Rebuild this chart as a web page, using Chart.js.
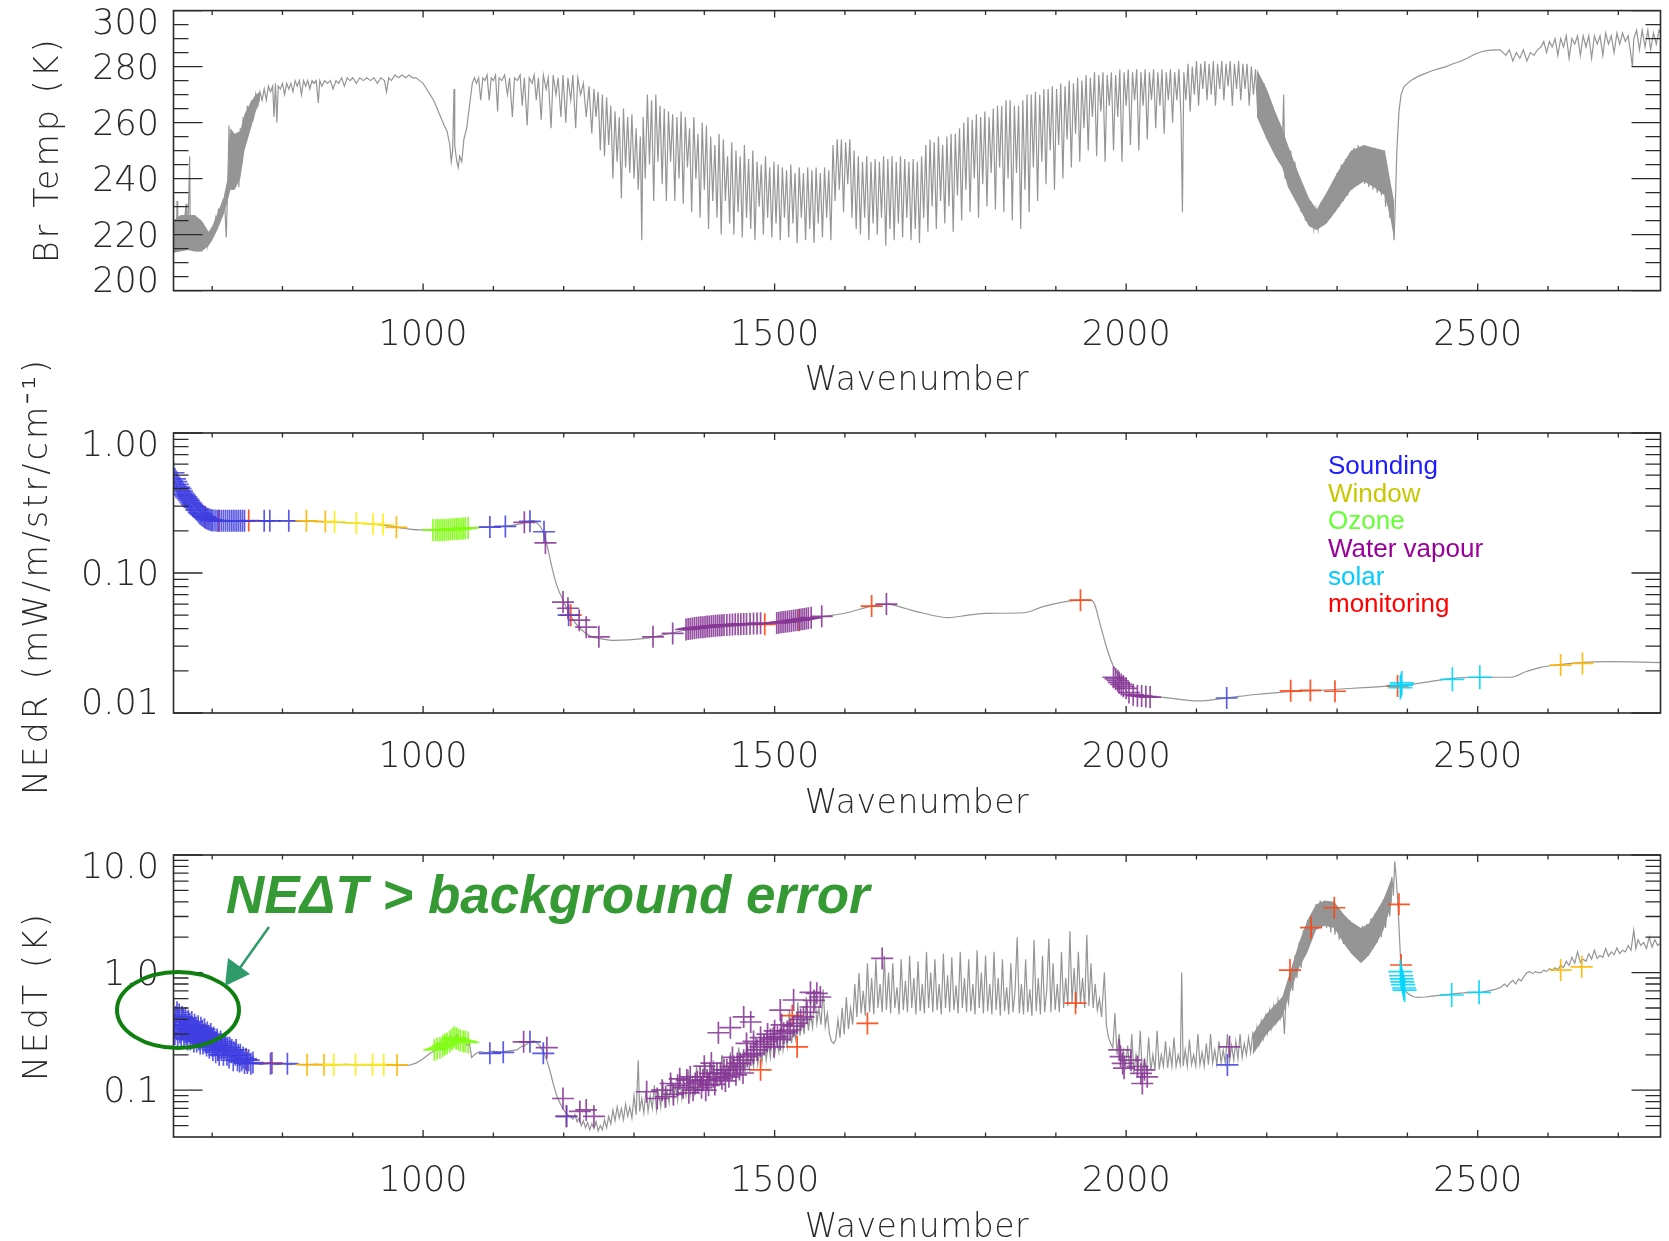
<!DOCTYPE html>
<html>
<head>
<meta charset="utf-8">
<script src="https://cdn.jsdelivr.net/npm/chart.js@4.4.1/dist/chart.umd.min.js"></script>
<style>
  html, body { margin: 0; padding: 0; background: #fff; }
  #wrap { position: relative; width: 1669px; height: 1241px; }
  #wrap canvas { position: absolute; left: 0; top: 0; }
</style>
</head>
<body>
<div id="wrap">
  <canvas id="brtemp" width="1669" height="1241"></canvas>
  <canvas id="nedr" width="1669" height="1241"></canvas>
  <canvas id="nedt" width="1669" height="1241"></canvas>
</div>
<script>
// ---- data ----
const xTickValues = [1000, 1500, 2000, 2500];
const brTempTicks = [200, 220, 240, 260, 280, 300];
const brTempMinor = [205, 210, 215, 225, 230, 235, 245, 250, 255, 265, 270, 275, 285, 290, 295];
const nedrTicks = [0.01, 0.1, 1];
const nedrTickLabels = ['0.01', '0.10', '1.00'];
const nedrMinor = [0.02, 0.03, 0.04, 0.05, 0.06, 0.07, 0.08, 0.09, 0.2, 0.3, 0.4, 0.5, 0.6, 0.7, 0.8, 0.9];
const nedtTicks = [0.1, 1, 10];
const nedtTickLabels = ['0.1', '1.0', '10.0'];
const nedtMinor = [0.05, 0.06, 0.07, 0.08, 0.09, 0.2, 0.3, 0.4, 0.5, 0.6, 0.7, 0.8, 0.9, 2, 3, 4, 5, 6, 7, 8, 9];
const legendLabels = ['Sounding', 'Window', 'Ozone', 'Water vapour', 'solar', 'monitoring'];

// brightness temperature spectrum [wavenumber, K]
const brTemp = [[645,215],[647,225],[649,214],[650,232],[651,216],[653,226],[655,215],[657,225],[659,216],[661,226],[663,231],[664,215],[666,226],[668,248],[669,216],[671,226],[673,215],[675,227],[677,214],[679,226],[681,214],[683,225],[685,214],[687,224],[689,215],[691,222],[693,216],[695,220],[697,218],[700,222],[703,221],[705,226],[707,224],[709,229],[712,228],[715,232],[718,230],[720,219],[722,236],[724,259],[726,238],[728,256],[730,236],[732,255],[734,238],[736,253],[738,237],[740,258],[742,245],[744,262],[747,252],[750,266],[753,258],[756,268],[759,262],[762,270],[765,266],[768,271],[771,268],[774,272],[777,268],[780,273],[783,271],[786,273],[788,262],[790,274],[792,260],[794,273],[797,272],[800,274],[803,270],[806,274],[809,272],[812,274],[815,271],[818,275],[821,273],[824,275],[827,270],[830,275],[833,273],[836,275],[839,272],[842,275],[845,274],[848,275],[851,267],[853,275],[856,273],[860,275],[864,274],[868,275],[872,272],[876,275],[880,274],[884,276],[888,273],[892,276],[896,275],[900,276],[905,274],[910,276],[915,275],[920,276],[925,275],[930,276],[935,274],[940,276],[945,275],[948,271],[951,276],[955,275],[960,277],[965,276],[970,277],[975,276],[980,277],[985,276],[990,276],[995,275],[1000,274],[1005,272],[1010,270],[1015,268],[1020,265],[1025,262],[1030,259],[1034,257],[1038,252],[1040,246],[1042,250],[1044,272],[1045,252],[1048,246],[1050,244],[1052,248],[1055,246],[1058,254],[1062,258],[1066,266],[1070,274],[1073,276],[1076,274],[1079,276],[1082,268],[1085,276],[1088,275],[1091,277],[1094,268],[1097,276],[1100,275],[1103,277],[1106,264],[1108,276],[1112,275],[1116,277],[1120,270],[1123,276],[1127,262],[1130,276],[1134,275],[1138,277],[1141,266],[1144,276],[1148,259],[1151,276],[1155,274],[1158,277],[1161,268],[1164,276],[1168,261],[1171,277],[1175,272],[1178,276],[1182,258],[1185,277],[1189,270],[1192,276],[1196,262],[1199,277],[1203,260],[1206,276],[1210,268],[1213,277],[1217,258],[1220,276],[1224,270],[1228,274],[1232,262],[1236,273],[1240,256],[1243,272],[1246,262],[1249,271],[1252,250],[1255,270],[1258,248],[1261,269],[1264,252],[1267,266],[1270,240],[1273,264],[1276,246],[1279,262],[1282,233],[1285,265],[1288,244],[1291,262],[1294,242],[1297,263],[1300,240],[1303,258],[1306,236],[1309,255],[1311,218],[1313,262],[1316,240],[1319,270],[1322,245],[1325,268],[1328,232],[1331,270],[1334,246],[1337,266],[1340,238],[1343,265],[1346,232],[1349,264],[1352,246],[1355,263],[1358,232],[1361,262],[1364,240],[1367,264],[1370,231],[1373,262],[1376,244],[1379,258],[1382,228],[1385,262],[1388,240],[1391,256],[1394,226],[1397,260],[1400,236],[1403,259],[1406,222],[1409,255],[1412,232],[1415,252],[1418,226],[1421,256],[1424,220],[1427,254],[1430,232],[1433,248],[1436,224],[1439,253],[1442,220],[1445,250],[1448,228],[1451,248],[1454,219],[1457,252],[1460,226],[1463,247],[1466,222],[1469,250],[1472,218],[1475,246],[1478,230],[1481,245],[1484,220],[1487,248],[1490,226],[1493,244],[1496,219],[1499,246],[1502,224],[1505,245],[1508,218],[1511,244],[1514,226],[1517,243],[1520,219],[1523,245],[1526,224],[1529,242],[1532,217],[1535,244],[1538,226],[1541,242],[1544,218],[1547,244],[1550,222],[1553,243],[1556,217],[1559,244],[1562,224],[1565,242],[1568,219],[1571,244],[1574,226],[1577,243],[1580,218],[1583,252],[1586,232],[1589,254],[1592,236],[1595,254],[1598,228],[1601,253],[1604,238],[1607,254],[1610,226],[1613,250],[1616,222],[1619,248],[1622,220],[1625,246],[1628,226],[1631,248],[1634,218],[1637,246],[1640,224],[1643,247],[1646,220],[1649,246],[1652,226],[1655,248],[1658,216],[1661,247],[1664,222],[1667,248],[1670,218],[1673,246],[1676,224],[1679,248],[1682,219],[1685,247],[1688,226],[1691,246],[1694,218],[1697,247],[1700,222],[1703,246],[1706,217],[1709,248],[1712,226],[1715,252],[1718,221],[1721,254],[1724,230],[1727,253],[1730,222],[1733,255],[1736,232],[1739,252],[1742,224],[1745,255],[1748,230],[1751,256],[1754,221],[1757,256],[1760,234],[1763,258],[1766,225],[1769,260],[1772,236],[1775,262],[1778,228],[1781,261],[1784,240],[1787,263],[1790,226],[1793,262],[1796,238],[1799,264],[1802,230],[1805,262],[1808,242],[1811,265],[1814,229],[1817,266],[1820,244],[1823,266],[1826,228],[1829,268],[1832,240],[1835,268],[1838,225],[1841,266],[1844,242],[1847,266],[1850,222],[1853,268],[1856,236],[1859,270],[1862,228],[1865,270],[1868,244],[1871,271],[1874,232],[1877,270],[1880,246],[1883,272],[1886,238],[1889,272],[1892,250],[1895,273],[1898,236],[1901,272],[1904,252],[1907,274],[1910,240],[1913,273],[1916,254],[1919,275],[1922,244],[1925,274],[1928,256],[1931,276],[1934,246],[1937,275],[1940,258],[1943,277],[1946,250],[1949,276],[1952,262],[1955,278],[1958,248],[1961,277],[1964,264],[1967,278],[1970,246],[1973,277],[1976,266],[1979,278],[1982,250],[1985,277],[1988,262],[1991,279],[1994,246],[1997,278],[2000,266],[2003,279],[2006,252],[2009,278],[2012,268],[2015,279],[2018,250],[2021,278],[2024,266],[2027,279],[2030,254],[2033,278],[2036,268],[2039,279],[2042,258],[2045,278],[2048,266],[2051,279],[2054,256],[2057,278],[2060,268],[2063,279],[2066,260],[2069,278],[2072,268],[2075,279],[2078,262],[2080,228],[2082,278],[2085,268],[2088,281],[2091,264],[2094,280],[2097,270],[2100,282],[2103,266],[2106,281],[2109,272],[2112,282],[2115,268],[2118,281],[2121,270],[2124,282],[2127,266],[2130,281],[2133,272],[2136,282],[2139,268],[2142,281],[2145,273],[2148,282],[2151,266],[2154,281],[2157,272],[2160,282],[2163,268],[2166,281],[2169,272],[2172,281],[2175,266],[2178,280],[2181,270],[2184,279],[2187,264],[2190,276],[2193,262],[2196,274],[2199,258],[2202,270],[2205,254],[2208,266],[2211,250],[2214,262],[2217,246],[2220,258],[2222,250],[2224,270],[2226,240],[2228,252],[2231,238],[2234,250],[2237,236],[2240,246],[2243,232],[2246,240],[2249,228],[2252,236],[2255,225],[2258,232],[2261,223],[2264,230],[2267,222],[2270,229],[2273,222],[2276,230],[2279,223],[2282,233],[2285,225],[2288,236],[2291,226],[2294,239],[2297,228],[2300,242],[2303,230],[2306,245],[2309,232],[2312,247],[2315,234],[2318,249],[2321,236],[2324,251],[2327,238],[2330,252],[2333,240],[2336,251],[2339,238],[2342,251],[2345,237],[2348,250],[2351,236],[2354,251],[2357,235],[2360,250],[2363,234],[2366,247],[2369,230],[2372,240],[2375,226],[2378,232],[2381,218],[2383,232],[2385,250],[2388,264],[2391,270],[2395,272.8],[2400,274],[2405,275],[2415,276.5],[2425,277.5],[2435,278.5],[2445,279.3],[2455,280],[2465,281],[2475,281.8],[2485,283],[2495,284.3],[2505,285.3],[2515,285.8],[2525,286],[2532,286],[2540,284],[2545,286],[2550,282],[2555,285],[2560,283],[2565,286],[2570,282],[2575,285],[2580,284],[2585,286],[2590,287],[2594,289],[2598,285],[2602,289],[2606,287],[2610,290],[2614,284],[2618,290],[2622,287],[2626,291],[2630,283],[2634,290],[2638,288],[2642,291],[2646,284],[2650,291],[2654,287],[2658,291],[2662,283],[2666,291],[2670,288],[2674,291],[2678,284],[2682,292],[2686,288],[2690,291],[2694,285],[2698,292],[2702,288],[2706,292],[2710,289],[2714,291],[2718,284],[2720,280],[2722,290],[2726,293],[2730,286],[2734,293],[2738,287],[2742,293],[2746,286],[2750,292],[2754,288],[2758,293],[2760,292]];
// envelopes [wavenumber, low, high] of the densely packed line bands
const brTempBandCO2 = [[645,213.5,225],[655,214,227],[665,214.5,227],[675,214,227],[685,214,225],[695,216,221],[700,218,223],[708,222,228],[716,227,233],[722,232,240],[726,236,258],[732,236,256],[740,240,257],[746,250,263],[754,257,267],[762,264,270],[768,268,271]];
const brTempBandN2O = [[2186,262,279],[2200,254,272],[2212,248,264],[2222,244,258],[2230,237,252],[2245,230,242],[2260,223,233],[2271,221.6,229],[2285,224,235],[2300,229,242],[2320,236,250],[2338,239,252],[2352,237,251],[2368,234,250],[2375,227,240],[2381,218.7,232]];

// noise equivalent radiance curve [wavenumber, mW/m2/sr/cm-1]
const nedr = [[645,0.45],[650,0.42],[655,0.39],[660,0.36],[665,0.34],[670,0.32],[675,0.3],[680,0.285],[685,0.27],[690,0.258],[695,0.25],[700,0.244],[710,0.24],[720,0.238],[740,0.237],[760,0.236],[800,0.236],[840,0.235],[880,0.23],[920,0.225],[950,0.218],[975,0.208],[997,0.203],[1015,0.203],[1040,0.205],[1065,0.21],[1080,0.213],[1110,0.214],[1140,0.225],[1150,0.234],[1156,0.237],[1163,0.225],[1170,0.2],[1176,0.16],[1183,0.111],[1190,0.082],[1199,0.064],[1210,0.049],[1226,0.039],[1240,0.035],[1252,0.034],[1272,0.033],[1313,0.034],[1374,0.039],[1420,0.041],[1481,0.0432],[1530,0.046],[1567,0.0487],[1603,0.052],[1638,0.058],[1661,0.06],[1685,0.056],[1709,0.052],[1747,0.048],[1775,0.05],[1801,0.0515],[1854,0.052],[1882,0.0575],[1910,0.062],[1936,0.064],[1949,0.064],[1955,0.06],[1962,0.045],[1970,0.032],[1978,0.024],[1990,0.018],[2004,0.0138],[2040,0.0131],[2070,0.0126],[2101,0.0122],[2143,0.0128],[2180,0.0135],[2216,0.014],[2283,0.0146],[2338,0.0152],[2392,0.0158],[2430,0.0167],[2465,0.0177],[2502,0.018],[2547,0.018],[2568,0.0197],[2590,0.0212],[2611,0.022],[2647,0.0229],[2684,0.0233],[2720,0.0232],[2760,0.0229]];

// noise equivalent temperature spectrum [wavenumber, K]
const nedt = [[645,0.45],[650,0.42],[660,0.38],[670,0.34],[680,0.3],[690,0.27],[700,0.24],[710,0.22],[720,0.2],[730,0.19],[740,0.18],[750,0.172],[760,0.168],[770,0.166],[780,0.17],[790,0.165],[800,0.168],[810,0.165],[820,0.167],[830,0.164],[845,0.166],[860,0.165],[875,0.164],[890,0.166],[905,0.164],[920,0.165],[935,0.164],[950,0.164],[965,0.163],[980,0.163],[990,0.17],[1000,0.185],[1010,0.206],[1019,0.22],[1026,0.24],[1033,0.25],[1038,0.29],[1043,0.27],[1048,0.3],[1052,0.255],[1057,0.27],[1062,0.24],[1066,0.25],[1069,0.19],[1075,0.205],[1081,0.213],[1090,0.208],[1100,0.215],[1110,0.21],[1120,0.215],[1133,0.22],[1140,0.235],[1145,0.24],[1152,0.258],[1158,0.262],[1163,0.25],[1166,0.24],[1171,0.21],[1176,0.18],[1180,0.15],[1185,0.114],[1190,0.09],[1195,0.077],[1200,0.068],[1205,0.062],[1209,0.06],[1213,0.057],[1216,0.062],[1219,0.054],[1222,0.058],[1225,0.05],[1228,0.055],[1231,0.048],[1234,0.053],[1237,0.046],[1240,0.052],[1243,0.047],[1246,0.054],[1249,0.045],[1252,0.05],[1255,0.046],[1258,0.056],[1261,0.048],[1264,0.06],[1267,0.052],[1270,0.068],[1273,0.055],[1276,0.072],[1279,0.058],[1282,0.07],[1285,0.056],[1288,0.076],[1291,0.06],[1294,0.072],[1297,0.058],[1300,0.09],[1303,0.062],[1306,0.18],[1308,0.066],[1311,0.085],[1314,0.064],[1317,0.1],[1320,0.066],[1323,0.09],[1326,0.07],[1329,0.11],[1332,0.068],[1335,0.095],[1338,0.072],[1341,0.12],[1344,0.075],[1347,0.1],[1350,0.078],[1353,0.13],[1356,0.08],[1359,0.11],[1362,0.082],[1365,0.14],[1368,0.085],[1371,0.12],[1374,0.09],[1377,0.15],[1380,0.092],[1383,0.125],[1386,0.095],[1389,0.16],[1392,0.1],[1395,0.13],[1398,0.104],[1401,0.17],[1404,0.108],[1407,0.14],[1410,0.11],[1413,0.18],[1416,0.115],[1419,0.15],[1422,0.118],[1425,0.2],[1428,0.122],[1431,0.16],[1434,0.126],[1437,0.21],[1440,0.13],[1443,0.17],[1446,0.135],[1449,0.23],[1452,0.14],[1455,0.19],[1458,0.145],[1461,0.26],[1464,0.152],[1467,0.2],[1470,0.158],[1473,0.28],[1476,0.165],[1479,0.22],[1482,0.172],[1485,0.3],[1488,0.18],[1491,0.25],[1494,0.19],[1497,0.34],[1500,0.2],[1503,0.27],[1506,0.21],[1509,0.4],[1512,0.22],[1515,0.3],[1518,0.235],[1521,0.48],[1524,0.25],[1527,0.34],[1530,0.27],[1533,0.56],[1536,0.29],[1539,0.4],[1542,0.3],[1545,0.62],[1548,0.32],[1551,0.45],[1554,0.34],[1557,0.7],[1560,0.37],[1563,0.5],[1566,0.36],[1569,0.72],[1572,0.35],[1575,0.45],[1578,0.3],[1581,0.26],[1584,0.25],[1587,0.27],[1590,0.4],[1593,0.28],[1596,0.5],[1599,0.3],[1602,0.62],[1605,0.33],[1608,0.5],[1611,0.36],[1614,0.8],[1617,0.42],[1620,0.99],[1623,0.45],[1626,0.7],[1629,0.43],[1632,1.2],[1635,0.46],[1638,0.9],[1641,0.44],[1644,1.3],[1647,0.5],[1650,0.8],[1653,0.46],[1656,1.4],[1659,0.48],[1662,1.0],[1665,0.45],[1668,1.2],[1671,0.5],[1674,0.75],[1677,0.44],[1680,1.3],[1683,0.48],[1686,0.85],[1689,0.46],[1692,1.4],[1695,0.5],[1698,0.9],[1701,0.44],[1704,1.25],[1707,0.47],[1710,0.8],[1713,0.45],[1716,1.5],[1719,0.5],[1722,1.0],[1725,0.46],[1728,1.3],[1731,0.48],[1734,0.8],[1737,0.44],[1740,1.45],[1743,0.5],[1746,0.95],[1749,0.46],[1752,1.35],[1755,0.48],[1758,0.78],[1761,0.45],[1764,1.5],[1767,0.5],[1770,0.9],[1773,0.46],[1776,1.3],[1779,0.47],[1782,0.8],[1785,0.44],[1788,1.55],[1791,0.5],[1794,1.0],[1797,0.45],[1800,1.4],[1803,0.47],[1806,0.8],[1809,0.44],[1812,1.5],[1815,0.48],[1818,0.9],[1821,0.43],[1824,1.3],[1827,0.47],[1830,0.75],[1833,0.44],[1836,1.2],[1839,0.46],[1842,0.7],[1845,2.0],[1848,0.45],[1851,0.8],[1854,0.44],[1857,1.3],[1860,0.46],[1863,0.72],[1866,0.43],[1869,1.9],[1872,0.47],[1875,0.9],[1878,0.44],[1881,1.4],[1884,0.46],[1887,0.7],[1890,1.95],[1893,0.46],[1896,1.2],[1899,0.48],[1902,0.8],[1905,0.46],[1908,1.5],[1911,0.5],[1914,0.9],[1917,0.52],[1920,2.25],[1923,0.55],[1926,1.1],[1929,0.5],[1932,1.5],[1935,0.55],[1938,0.9],[1941,0.5],[1944,2.1],[1947,0.52],[1950,1.2],[1953,0.5],[1956,0.8],[1959,0.48],[1962,0.6],[1965,0.42],[1969,1.0],[1972,0.35],[1975,0.28],[1978,0.25],[1981,0.23],[1984,0.45],[1987,0.2],[1990,0.3],[1993,0.18],[1996,0.22],[1999,0.16],[2002,0.24],[2005,0.15],[2008,0.3],[2011,0.14],[2014,0.2],[2017,0.145],[2020,0.32],[2023,0.14],[2026,0.18],[2029,0.15],[2032,0.28],[2035,0.145],[2038,0.2],[2041,0.15],[2044,0.32],[2047,0.15],[2050,0.2],[2053,0.16],[2056,0.26],[2059,0.155],[2062,0.22],[2065,0.16],[2068,0.28],[2071,0.16],[2074,0.2],[2077,0.165],[2079,1.0],[2081,0.16],[2084,0.22],[2087,0.16],[2090,0.27],[2093,0.165],[2096,0.2],[2099,0.16],[2102,0.3],[2105,0.165],[2108,0.21],[2111,0.16],[2114,0.25],[2117,0.165],[2120,0.3],[2123,0.17],[2126,0.22],[2129,0.165],[2132,0.26],[2135,0.17],[2138,0.22],[2141,0.17],[2144,0.3],[2147,0.175],[2150,0.24],[2153,0.18],[2156,0.26],[2159,0.185],[2162,0.3],[2165,0.19],[2168,0.25],[2171,0.2],[2174,0.28],[2177,0.21],[2180,0.3],[2183,0.23],[2186,0.34],[2189,0.25],[2192,0.38],[2195,0.28],[2198,0.42],[2201,0.31],[2204,0.47],[2207,0.34],[2210,0.52],[2213,0.38],[2216,0.58],[2219,0.42],[2222,0.62],[2225,0.3],[2228,0.7],[2231,0.55],[2234,1.05],[2237,0.7],[2240,1.4],[2243,0.9],[2246,1.8],[2249,1.1],[2252,2.3],[2255,1.4],[2258,2.8],[2261,1.8],[2264,3.2],[2267,2.2],[2270,3.8],[2273,2.5],[2276,4.1],[2279,2.6],[2282,4.0],[2285,2.4],[2288,3.8],[2291,2.2],[2294,3.8],[2297,2.1],[2300,3.5],[2303,1.9],[2306,3.2],[2309,1.75],[2312,3.0],[2315,1.6],[2318,2.8],[2321,1.5],[2324,2.6],[2327,1.4],[2330,2.4],[2333,1.25],[2336,2.5],[2339,1.3],[2342,2.6],[2345,1.4],[2348,2.9],[2351,1.6],[2354,3.2],[2357,1.8],[2360,3.6],[2363,2.0],[2366,4.2],[2369,2.4],[2372,5.0],[2375,3.0],[2378,6.5],[2380,4.5],[2382,8.8],[2384,6.5],[2386,4.2],[2388,2.5],[2390,1.4],[2392,0.95],[2394,0.8],[2396,0.72],[2400,0.67],[2405,0.64],[2410,0.62],[2415,0.615],[2425,0.62],[2435,0.63],[2445,0.64],[2455,0.65],[2465,0.66],[2475,0.67],[2485,0.675],[2495,0.68],[2505,0.68],[2515,0.7],[2525,0.72],[2533,0.75],[2538,0.8],[2542,0.76],[2546,0.82],[2550,0.86],[2554,0.8],[2558,0.88],[2562,0.85],[2566,0.93],[2570,1.0],[2574,1.02],[2578,0.98],[2582,1.02],[2586,1.0],[2590,1.0],[2594,1.05],[2598,1.02],[2602,1.08],[2606,1.05],[2610,1.1],[2614,1.06],[2618,1.15],[2622,1.1],[2626,1.25],[2630,1.15],[2634,1.35],[2638,1.2],[2642,1.5],[2646,1.22],[2650,1.3],[2654,1.25],[2658,1.45],[2662,1.3],[2666,1.55],[2670,1.32],[2674,1.4],[2678,1.35],[2682,1.6],[2686,1.38],[2690,1.5],[2694,1.42],[2698,1.62],[2702,1.45],[2706,1.55],[2710,1.5],[2714,1.7],[2718,1.55],[2722,2.3],[2725,1.6],[2728,1.9],[2732,1.7],[2736,1.8],[2740,1.6],[2744,2.0],[2748,1.65],[2752,1.9],[2756,1.7],[2760,1.78]];
const nedtBandN2O = [[2180,0.2,0.3],[2200,0.3,0.45],[2222,0.42,0.62],[2234,0.7,1.05],[2246,1.1,1.8],[2258,1.5,2.8],[2270,2.3,3.8],[2282,2.5,4.1],[2296,2.4,4.0],[2310,1.75,3.1],[2320,1.45,2.7],[2334,1.2,2.4],[2345,1.4,2.6],[2357,1.8,3.4],[2366,2.3,4.2],[2372,3.0,5.2],[2378,4.0,6.5]];

// selected channels, NEdR panel
const nedrSounding = [[645,0.52],[647,0.47],[649,0.45],[651,0.43],[653,0.41],[655,0.4],[657,0.385],[659,0.37],[661,0.36],[663,0.35],[665,0.34],[667,0.33],[669,0.32],[671,0.31],[673,0.3],[675,0.295],[677,0.285],[679,0.28],[681,0.27],[683,0.265],[685,0.26],[687,0.255],[689,0.25],[691,0.247],[693,0.244],[695,0.242],[697,0.24],[699,0.238],[701,0.237],[704,0.237],[707,0.236],[710,0.236],[713,0.236],[716,0.236],[719,0.236],[722,0.236],[725,0.236],[728,0.236],[731,0.236],[734,0.236],[737,0.236],[740,0.236],[743,0.236],[746,0.236],[774,0.236],[782,0.236],[809,0.236],[1095,0.213],[1117,0.215],[1152,0.234],[1172,0.197],[1207,0.05],[2143,0.0128]];
const nedrWindow = [[834,0.236],[861,0.233],[874,0.232],[905,0.227],[929,0.224],[943,0.222],[962,0.212],[2618,0.022],[2649,0.0226]];
const nedrOzone = [[1014,0.203],[1018,0.202],[1021,0.203],[1024,0.202],[1027,0.203],[1030,0.203],[1033,0.204],[1036,0.204],[1039,0.205],[1042,0.205],[1045,0.206],[1048,0.206],[1051,0.207],[1054,0.207],[1057,0.208],[1060,0.209],[1064,0.21]];
const nedrWater = [[1144,0.23],[1174,0.164],[1199,0.062],[1206,0.056],[1222,0.046],[1232,0.041],[1250,0.035],[1327,0.035],[1355,0.037],[1374,0.0395],[1377,0.0398],[1380,0.04],[1383,0.0402],[1386,0.0404],[1389,0.0406],[1392,0.0408],[1395,0.041],[1398,0.041],[1401,0.0412],[1404,0.0414],[1407,0.0415],[1410,0.0416],[1413,0.0418],[1416,0.042],[1419,0.0421],[1422,0.0422],[1425,0.0424],[1428,0.0425],[1432,0.0426],[1436,0.0427],[1440,0.0428],[1444,0.043],[1448,0.043],[1452,0.0431],[1456,0.0432],[1460,0.0433],[1465,0.0434],[1470,0.0435],[1475,0.0436],[1480,0.0437],[1503,0.044],[1506,0.0442],[1509,0.0444],[1512,0.0446],[1515,0.0448],[1518,0.045],[1521,0.0452],[1524,0.0455],[1527,0.0458],[1530,0.046],[1533,0.0462],[1536,0.0465],[1539,0.0468],[1542,0.047],[1545,0.0473],[1548,0.0476],[1552,0.048],[1567,0.049],[1659,0.06],[1982,0.018],[1985,0.0175],[1988,0.017],[1990,0.0165],[1993,0.016],[1996,0.0155],[2000,0.015],[2004,0.014],[2010,0.0135],[2016,0.0133],[2022,0.0132],[2028,0.0131],[2034,0.013]];
const nedrSolar = [[2390,0.0152],[2391,0.0158],[2392,0.0164],[2464,0.0174],[2503,0.018]];
const nedrMonitoring = [[690,0.252],[709,0.236],[752,0.237],[1210,0.05],[1486,0.043],[1535,0.046],[1638,0.058],[1935,0.064],[2234,0.0144],[2262,0.0145],[2297,0.0143],[2386,0.0156]];

// selected channels, NEdT panel
const nedtSounding = [[645,0.48],[646,0.36],[647,0.3],[648,0.42],[649,0.33],[650,0.46],[651,0.29],[652,0.38],[653,0.44],[654,0.31],[655,0.36],[656,0.28],[657,0.42],[658,0.33],[659,0.4],[660,0.28],[661,0.36],[662,0.41],[663,0.3],[664,0.35],[665,0.27],[666,0.39],[667,0.32],[668,0.37],[669,0.27],[670,0.34],[671,0.38],[672,0.29],[673,0.33],[674,0.26],[675,0.36],[676,0.3],[677,0.34],[678,0.26],[679,0.31],[680,0.35],[681,0.27],[682,0.31],[683,0.25],[684,0.34],[685,0.28],[686,0.32],[687,0.25],[688,0.29],[689,0.33],[690,0.26],[691,0.29],[692,0.24],[693,0.31],[694,0.26],[695,0.29],[696,0.23],[697,0.27],[698,0.3],[699,0.24],[700,0.27],[701,0.22],[702,0.28],[703,0.24],[704,0.26],[705,0.21],[706,0.25],[707,0.27],[708,0.22],[709,0.24],[710,0.2],[712,0.26],[713,0.22],[715,0.24],[716,0.2],[718,0.23],[719,0.25],[721,0.2],[722,0.23],[724,0.19],[725,0.23],[727,0.21],[728,0.22],[730,0.18],[731,0.21],[733,0.2],[734,0.22],[736,0.18],[737,0.2],[739,0.175],[740,0.2],[742,0.18],[744,0.19],[746,0.17],[748,0.185],[750,0.17],[752,0.18],[755,0.168],[758,0.172],[783,0.168],[807,0.168],[1095,0.206],[1114,0.21],[1152,0.258],[1171,0.206],[1204,0.06],[2144,0.164]];
const nedtWindow = [[835,0.165],[859,0.165],[873,0.165],[904,0.165],[928,0.165],[944,0.165],[963,0.164],[2618,1.05],[2648,1.12]];
const nedtOzone = [[1016,0.22],[1020,0.225],[1024,0.23],[1028,0.238],[1031,0.245],[1034,0.25],[1038,0.26],[1041,0.27],[1044,0.28],[1047,0.276],[1050,0.27],[1053,0.265],[1057,0.26],[1060,0.26],[1064,0.255]];
const nedtWater = [[785,0.17],[1143,0.258],[1176,0.23],[1199,0.085],[1223,0.066],[1232,0.068],[1243,0.06],[1318,0.097],[1333,0.085],[1340,0.1],[1345,0.088],[1352,0.114],[1356,0.092],[1362,0.11],[1365,0.125],[1370,0.105],[1375,0.122],[1378,0.095],[1380,0.13],[1384,0.1],[1387,0.114],[1390,0.118],[1394,0.13],[1396,0.105],[1398,0.122],[1400,0.16],[1402,0.1],[1404,0.122],[1406,0.11],[1408,0.139],[1410,0.17],[1413,0.13],[1415,0.112],[1418,0.139],[1420,0.308],[1423,0.139],[1425,0.125],[1428,0.149],[1430,0.12],[1432,0.149],[1435,0.13],[1437,0.34],[1437,0.159],[1440,0.19],[1442,0.159],[1445,0.135],[1447,0.169],[1450,0.15],[1451,0.169],[1455,0.14],[1456,0.42],[1456,0.18],[1460,0.25],[1461,0.193],[1466,0.38],[1466,0.2],[1470,0.26],[1470,0.206],[1475,0.22],[1480,0.28],[1480,0.234],[1485,0.245],[1489,0.259],[1490,0.3],[1494,0.27],[1499,0.234],[1499,0.28],[1500,0.32],[1504,0.285],[1508,0.27],[1508,0.48],[1510,0.36],[1513,0.305],[1518,0.315],[1522,0.325],[1527,0.585],[1527,0.35],[1532,0.37],[1537,0.4],[1541,0.42],[1546,0.46],[1551,0.68],[1551,0.51],[1556,0.58],[1560,0.667],[1565,0.62],[1653,1.32],[1990,0.22],[1992,0.193],[1995,0.169],[1997,0.154],[2007,0.18],[2016,0.159],[2021,0.139],[2023,0.114],[2026,0.149],[2030,0.13],[2147,0.234]];
const nedtSolar = [[2390,1.02],[2391,0.94],[2392,0.885],[2393,0.835],[2394,0.79],[2395,0.74],[2396,0.71],[2463,0.645],[2502,0.68]];
const nedtMonitoring = [[684,0.294],[690,0.3],[708,0.22],[749,0.18],[1204,0.06],[1480,0.149],[1525,0.43],[1532,0.234],[1632,0.37],[1928,0.55],[2233,1.05],[2263,2.41],[2296,3.56],[2388,3.81],[2391,1.16]];

// ---- styles ----
const GRAY = '#959595';
const INK = '#2a2a2a';
const TICK_FONT = '200 35px "DejaVu Sans"';
const TITLE_FONT = '200 33px "DejaVu Sans"';
const legendColours = ['#1c1cff', '#c8c800', '#66ff33', '#990099', '#00ccff', '#ff0000'];
const markerColours = {
  sounding: 'rgba(62,62,226,0.85)',
  ozone: 'rgba(128,255,16,0.9)',
  water: 'rgba(136,56,150,0.88)',
  solar: 'rgba(0,214,255,0.9)',
  monitoring: 'rgba(255,66,16,0.9)'
};
const windowColour = c => (c.raw && c.raw.x > 868 && c.raw.x < 955) ? 'rgba(255,236,16,0.9)' : 'rgba(255,182,0,0.9)';

function pts(arr) { return arr.map(([x, y]) => ({ x, y })); }
function spectrum(arr, smooth) {
  return { data: pts(arr), showLine: true, borderColor: GRAY, borderWidth: 1.2, pointRadius: 0,
           tension: smooth ? 0.4 : 0, cubicInterpolationMode: smooth ? 'monotone' : 'default', clip: 0, order: 5 };
}
// a filled band between the low and high envelope: two datasets, the second fills to the first
function band(arr) {
  const edge = { showLine: true, borderWidth: 0, borderColor: GRAY, pointRadius: 0, clip: 0, order: 6 };
  return [
    Object.assign({ data: arr.map(([x, lo]) => ({ x, y: lo })), fill: false }, edge),
    Object.assign({ data: arr.map(([x, , hi]) => ({ x, y: hi })), fill: '-1', backgroundColor: GRAY }, edge)
  ];
}
function markers(arr, colour, r) {
  return { data: pts(arr), showLine: false, pointStyle: 'cross', pointRadius: r, pointHoverRadius: r,
           pointBorderColor: colour, pointBorderWidth: 1.7, clip: 0, order: 1 };
}

const panels = {
  brtemp: { major: brTempTicks, minor: brTempMinor, labels: brTempTicks.map(String),
            title: 'Br Temp (K)', titleX: 49, titleShift: -1 },
  nedr: { major: nedrTicks, minor: nedrMinor, labels: nedrTickLabels,
          title: 'NEdR (mW/m/str/cm\u207B\u00B9)', titleX: 38, titleShift: 3, extra: drawLegend },
  nedt: { major: nedtTicks, minor: nedtMinor, labels: nedtTickLabels,
          title: 'NEdT (K)', titleX: 38, titleShift: 0, extra: drawAnnotation }
};

function drawLegend(ctx) {
  ctx.font = '26px "Liberation Sans", Arial, sans-serif';
  ctx.textAlign = 'left';
  ctx.textBaseline = 'middle';
  ctx.letterSpacing = '0px';
  legendLabels.forEach((t, i) => {
    ctx.fillStyle = legendColours[i];
    ctx.fillText(t, 1328, 467 + i * 27.6);
  });
}

function drawAnnotation(ctx) {
  ctx.font = 'italic bold 53px "Liberation Sans", Arial, sans-serif';
  ctx.textAlign = 'left';
  ctx.textBaseline = 'alphabetic';
  ctx.letterSpacing = '0px';
  ctx.fillStyle = '#359a33';
  ctx.fillText('NE\u0394T > background error', 226, 913);
  ctx.beginPath();
  ctx.ellipse(178, 1010, 61, 38, 0, 0, Math.PI * 2);
  ctx.strokeStyle = '#0f800f';
  ctx.lineWidth = 4;
  ctx.stroke();
  ctx.beginPath();
  ctx.moveTo(269, 927);
  ctx.lineTo(237, 972);
  ctx.strokeStyle = '#2f9a6a';
  ctx.lineWidth = 2.5;
  ctx.stroke();
  ctx.beginPath();
  ctx.moveTo(225, 986);
  ctx.lineTo(228, 958);
  ctx.lineTo(250, 974);
  ctx.closePath();
  ctx.fillStyle = '#2f9a6a';
  ctx.fill();
}

const idlAxes = {
  id: 'idlAxes',
  afterDatasetsDraw(chart) {
    const p = panels[chart.canvas.id];
    const { ctx, chartArea: a } = chart;
    const x = chart.scales.x, y = chart.scales.y;
    ctx.save();
    ctx.strokeStyle = INK;
    ctx.lineWidth = 1.3;
    ctx.beginPath();
    for (let v = 700; v <= 2700; v += 100) {
      const px = x.getPixelForValue(v);
      const len = v % 500 === 0 ? 7 : 4.5;
      ctx.moveTo(px, a.top); ctx.lineTo(px, a.top + len);
      ctx.moveTo(px, a.bottom); ctx.lineTo(px, a.bottom - len);
    }
    p.minor.forEach(v => {
      const py = y.getPixelForValue(v);
      ctx.moveTo(a.left, py); ctx.lineTo(a.left + 15, py);
      ctx.moveTo(a.right, py); ctx.lineTo(a.right - 15, py);
    });
    p.major.forEach(v => {
      const py = y.getPixelForValue(v);
      ctx.moveTo(a.left, py); ctx.lineTo(a.left + 29, py);
      ctx.moveTo(a.right, py); ctx.lineTo(a.right - 29, py);
    });
    ctx.stroke();
    ctx.lineWidth = 1.6;
    ctx.strokeRect(a.left, a.top, a.right - a.left, a.bottom - a.top);

    // tick labels
    ctx.fillStyle = INK;
    ctx.font = TICK_FONT;
    ctx.textAlign = 'right';
    ctx.textBaseline = 'middle';
    p.major.forEach((v, i) => {
      let py = y.getPixelForValue(v);
      py = Math.min(Math.max(py, a.top + 11), a.bottom - 11);
      ctx.fillText(p.labels[i], 159, py + 3);
    });
    ctx.textAlign = 'center';
    xTickValues.forEach(v => ctx.fillText(String(v), x.getPixelForValue(v), a.bottom + 45));

    // axis titles
    ctx.font = TITLE_FONT;
    ctx.letterSpacing = '0.5px';
    ctx.fillText('Wavenumber', (a.left + a.right) / 2, a.bottom + 91);
    ctx.save();
    ctx.translate(p.titleX, (a.top + a.bottom) / 2 + p.titleShift);
    ctx.rotate(-Math.PI / 2);
    ctx.letterSpacing = '3.2px';
    ctx.fillText(p.title, 0, 0);
    ctx.restore();

    if (p.extra) p.extra(ctx);
    ctx.restore();
  }
};

function makePanel(id, top, bottom, yScale, datasets) {
  return new Chart(document.getElementById(id), {
    type: 'scatter',
    data: { datasets },
    options: {
      responsive: false,
      animation: false,
      devicePixelRatio: 1,
      events: [],
      layout: { autoPadding: false, padding: { left: 173.5, right: 8.5, top: top, bottom: 1241 - bottom } },
      scales: {
        x: { type: 'linear', display: false, min: 645, max: 2760 },
        y: Object.assign({ display: false }, yScale)
      },
      plugins: { legend: { display: false }, tooltip: { enabled: false } }
    },
    plugins: [idlAxes]
  });
}

makePanel('brtemp', 10.6, 290.6, { type: 'linear', min: 200, max: 300 }, [
  ...band(brTempBandCO2),
  ...band(brTempBandN2O),
  spectrum(brTemp, false)
]);

makePanel('nedr', 433, 713, { type: 'logarithmic', min: 0.01, max: 1 }, [
  spectrum(nedr, true),
  markers(nedrWater, markerColours.water, 11),
  markers(nedrOzone, markerColours.ozone, 11),
  markers(nedrWindow, windowColour, 11),
  markers(nedrSounding, markerColours.sounding, 11),
  markers(nedrSolar, markerColours.solar, 12),
  markers(nedrMonitoring, markerColours.monitoring, 11)
]);

makePanel('nedt', 855, 1137, { type: 'logarithmic', min: 0.04, max: 10 }, [
  ...band(nedtBandN2O),
  spectrum(nedt, false),
  markers(nedtWater, markerColours.water, 11),
  markers(nedtOzone, markerColours.ozone, 11),
  markers(nedtWindow, windowColour, 11),
  markers(nedtSounding, markerColours.sounding, 11),
  markers(nedtSolar, markerColours.solar, 12),
  markers(nedtMonitoring, markerColours.monitoring, 11)
]);
</script>
</body>
</html>
